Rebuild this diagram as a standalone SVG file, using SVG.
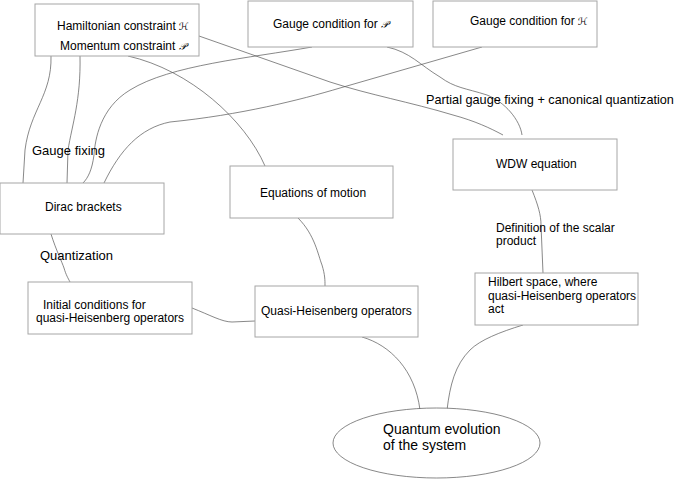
<svg xmlns="http://www.w3.org/2000/svg" width="678" height="480" viewBox="0 0 678 480">
<style>
.box{fill:#fff;stroke:#a6a6a6;stroke-width:1}
.t{font-family:"Liberation Sans",Arial,sans-serif;font-size:12px;fill:#000}
.l{font-size:13px}
.p{font-size:12.7px}
.q{font-size:14px}
.s{font-family:"DejaVu Serif","DejaVu Sans",serif;font-style:italic;font-size:10px}
.c{fill:none;stroke:#555;stroke-width:0.7}
</style>
<rect width="678" height="480" fill="#fff"/>
<g id="connectors">
<path class="c" d="M51,56 C52,95 30,110 25,150 L23,183"/>
<path class="c" d="M80,56 C81,100 72,125 68,150 L67,183"/>
<path class="c" d="M312,47 C250,58 170,65 130,90 C100,108 95,140 94,155 C92,170 88,178 83,183"/>
<path class="c" d="M482,47 L340,88 C300,100 240,115 170,122 C140,128 120,150 104,183"/>
<path class="c" d="M199,36 L330,82 C370,95 410,102 453,115 C475,121 490,128 503,135"/>
<path class="c" d="M387,47 C410,52 420,65 440,77 C455,88 465,88 487,95 C505,102 520,120 522,135"/>
<path class="c" d="M128,56 C190,70 245,120 265,166"/>
<path class="c" d="M51,234 C56,250 62,262 64,268 C66,275 68,278 70,282"/>
<path class="c" d="M298,218 C315,235 318,255 322,265 C325,275 325,280 325,286"/>
<path class="c" d="M192,308 C210,315 222,322 232,322 L255,321"/>
<path class="c" d="M532,190 C538,205 541,215 541,225 L543,273"/>
<path class="c" d="M362,337 C390,345 415,370 420,410"/>
<path class="c" d="M523,325 C500,332 480,340 470,350 C455,365 450,385 447,410"/>
</g>
<g id="labels">
<text class="t l" x="32" y="155">Gauge fixing</text>
<text class="t p" x="426" y="104">Partial gauge fixing + canonical quantization</text>
<text class="t l" x="40" y="260">Quantization</text>
<text class="t" x="496" y="232">Definition of the scalar</text>
<text class="t" x="496" y="245">product</text>
</g>
<g id="n-constraints">
<rect class="box" x="35" y="4" width="164" height="52"/>
<text class="t" x="57" y="30">Hamiltonian constraint <tspan class="s">ℋ</tspan></text>
<text class="t" x="60" y="50">Momentum constraint <tspan class="s">𝒫</tspan></text>
</g>
<g id="n-gaugeP">
<rect class="box" x="248" y="1" width="165" height="46"/>
<text class="t" x="273" y="28">Gauge condition for  <tspan class="s">𝒫</tspan></text>
</g>
<g id="n-gaugeH">
<rect class="box" x="433" y="1" width="164" height="46"/>
<text class="t" x="470" y="25">Gauge condition for  <tspan class="s">ℋ</tspan></text>
</g>
<g id="n-wdw">
<rect class="box" x="453" y="139" width="164" height="51"/>
<text class="t" x="496" y="168">WDW equation</text>
</g>
<g id="n-eom">
<rect class="box" x="230" y="166" width="163" height="52"/>
<text class="t" x="260" y="197">Equations of motion</text>
</g>
<g id="n-dirac">
<rect class="box" x="0" y="183" width="164" height="51"/>
<text class="t" x="45" y="211">Dirac brackets</text>
</g>
<g id="n-initial">
<rect class="box" x="28" y="282" width="164" height="52"/>
<text class="t" x="43" y="309">Initial conditions for</text>
<text class="t" x="36" y="322">quasi-Heisenberg operators</text>
</g>
<g id="n-quasi">
<rect class="box" x="255" y="286" width="163" height="51"/>
<text class="t" x="261" y="315">Quasi-Heisenberg operators</text>
</g>
<g id="n-hilbert">
<rect class="box" x="475" y="273" width="163" height="52"/>
<text class="t" x="488" y="286">Hilbert space, where</text>
<text class="t" x="488" y="300">quasi-Heisenberg operators</text>
<text class="t" x="488" y="313">act</text>
</g>
<g id="n-quantum">
<ellipse cx="436.5" cy="443" rx="103.5" ry="35" fill="#fff" stroke="#555" stroke-width="0.7"/>
<text class="t q" x="383" y="434">Quantum evolution</text>
<text class="t q" x="383" y="450">of the system</text>
</g>
</svg>
